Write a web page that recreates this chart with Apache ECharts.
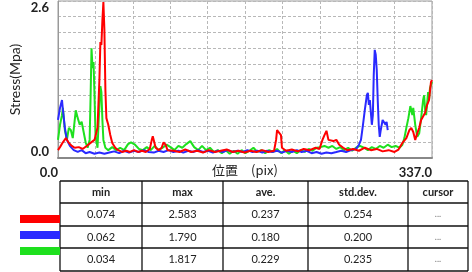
<!DOCTYPE html>
<html>
<head>
<meta charset="utf-8">
<script src="https://cdn.jsdelivr.net/npm/echarts@6/dist/echarts.min.js"></script>
<style>html,body{margin:0;padding:0;background:#fff;}#c{width:472px;height:272px;}</style>
</head>
<body>
<div id="c"></div>
<script>
// ---- data ----
const xMax = 337.0;
const yMax = 2.6;
const seriesNames = ['red', 'blue', 'green'];
const seriesColors = ['#ff0000', '#2a2aff', '#1ee01e'];

const redData = [
  [0,0.13],[1.8,0.18],[4.4,0.26],[7.1,0.33],[9.8,0.25],[12.4,0.2],[15.1,0.17],[18.7,0.18],[22.2,0.15],
  [25.8,0.2],[29.3,0.25],[32.9,0.3],[35.6,0.5],[37.3,1.29],[38.2,1.92],[39.1,1.87],[40,2.28],[40.9,2.583],
  [41.8,2.12],[42.7,1.13],[43.6,0.66],[45.3,0.55],[47.1,0.38],[48.9,0.25],[51.6,0.17],[54.2,0.13],[57.8,0.1],
  [61.4,0.12],[64.9,0.1],[68.5,0.13],[72,0.1],[75.6,0.12],[79.1,0.1],[82.7,0.15],[84.5,0.3],[85.4,0.36],
  [87.1,0.35],[88,0.17],[90.7,0.13],[93.4,0.17],[95.1,0.26],[96.9,0.22],[98.7,0.13],[104,0.12],[109.4,0.1],
  [114.7,0.14],[120,0.1],[125.4,0.12],[130.7,0.09],[136,0.13],[141.4,0.1],[146.7,0.12],[152,0.14],[157.4,0.1],
  [162.7,0.12],[168,0.09],[173.4,0.12],[178.7,0.1],[184,0.13],[189.4,0.1],[194.7,0.12],[196.5,0.3],[197.4,0.46],
  [199.2,0.48],[200.9,0.38],[201.8,0.17],[205.4,0.12],[210.7,0.14],[216.1,0.11],[221.4,0.15],[226.7,0.13],
  [232.1,0.17],[235.6,0.15],[238.3,0.3],[240.1,0.38],[241.9,0.45],[243.7,0.3],[245.5,0.33],[248.1,0.28],
  [250.8,0.3],[253.4,0.22],[257,0.17],[260.6,0.13],[265.9,0.15],[271.2,0.12],[276.5,0.17],[281.9,0.13],
  [287.2,0.15],[292.5,0.11],[297.9,0.13],[303.2,0.1],[306.8,0.14],[310.3,0.25],[313.9,0.33],[316.6,0.46],
  [318.3,0.5],[320.1,0.43],[321.9,0.3],[323.7,0.41],[325.5,0.5],[327.2,0.63],[329,0.66],[330.8,0.75],
  [332.6,0.88],[334.3,0.96],[336.1,1.26],[337,1.29]
];

const blueData = [
  [0,0.63],[1.8,0.83],[3.6,0.96],[4.4,0.8],[6.2,0.5],[8,0.3],[10.7,0.2],[14.2,0.13],[17.8,0.1],[21.3,0.13],
  [24.9,0.08],[28.5,0.1],[32.9,0.07],[37.3,0.09],[41.8,0.07],[46.2,0.09],[50.7,0.11],[55.1,0.08],[59.6,0.12],
  [64,0.09],[68.5,0.12],[72.9,0.1],[77.4,0.13],[81.8,0.1],[86.3,0.09],[90.7,0.12],[95.1,0.1],[99.6,0.13],
  [104,0.1],[108.5,0.12],[112.9,0.09],[117.4,0.12],[121.8,0.1],[126.3,0.13],[130.7,0.1],[135.2,0.12],
  [139.6,0.09],[144,0.12],[148.5,0.1],[152.9,0.13],[157.4,0.1],[161.8,0.12],[166.3,0.1],[170.7,0.13],
  [175.2,0.1],[179.6,0.12],[184.1,0.09],[188.5,0.12],[193,0.1],[197.4,0.12],[201.8,0.09],[206.3,0.12],
  [210.7,0.1],[215.2,0.13],[219.6,0.1],[224.1,0.12],[228.5,0.08],[233,0.1],[237.4,0.07],[241.9,0.09],
  [246.3,0.08],[250.8,0.1],[255.2,0.12],[259.6,0.1],[264.1,0.13],[268.5,0.15],[271.2,0.22],[273,0.3],
  [274.8,0.55],[276.5,0.8],[278.3,1.04],[279.2,1.08],[280.1,0.88],[281,0.96],[282.8,0.55],[283.7,0.71],
  [284.5,1.37],[285.4,1.79],[286.3,1.71],[287.2,1.46],[288.1,0.96],[289,0.55],[289.9,0.35],[290.8,0.46],
  [292.5,0.63],[294.3,0.66],[295.2,0.55],[296.1,0.6],[297.1,0.46]
];

const greenData = [
  [0,0.3],[1.8,0.55],[3.6,0.71],[4.4,0.83],[6.2,0.46],[8,0.3],[9.8,0.5],[11.6,0.46],[13.3,0.33],[15.1,0.63],
  [16,0.79],[17.8,0.66],[19.6,0.55],[21.3,0.6],[23.1,0.43],[24.9,0.26],[26.7,0.17],[28.5,0.3],[29.3,0.96],
  [30.2,1.817],[31.1,1.49],[32,1.59],[32.9,1.04],[33.8,0.38],[35.6,0.17],[36.5,0.55],[38.2,1.19],[39.1,1.09],
  [40,0.63],[40.9,0.3],[42.7,0.17],[45.3,0.13],[48.9,0.18],[52.5,0.13],[56,0.17],[59.6,0.13],[63.1,0.23],
  [65.8,0.26],[69.4,0.22],[72.9,0.15],[76.5,0.13],[80,0.18],[83.6,0.13],[87.1,0.2],[90.7,0.13],[94.3,0.17],
  [97.8,0.22],[101.4,0.18],[104.9,0.13],[108.5,0.2],[112,0.17],[115.6,0.23],[119.2,0.28],[122.7,0.18],
  [126.3,0.13],[129.8,0.2],[133.4,0.13],[136.9,0.17],[140.5,0.1],[144,0.13],[147.6,0.08],[151.2,0.13],
  [154.7,0.07],[158.3,0.12],[161.8,0.07],[165.4,0.13],[168.9,0.08],[172.5,0.12],[176.1,0.17],[179.6,0.1],
  [183.2,0.13],[186.7,0.08],[190.3,0.13],[193.8,0.1],[197.4,0.15],[201,0.08],[204.5,0.13],[208.1,0.07],
  [211.6,0.12],[215.2,0.08],[218.7,0.13],[222.3,0.1],[225.9,0.15],[229.4,0.12],[233,0.17],[236.5,0.18],
  [240.1,0.2],[243.7,0.17],[247.2,0.2],[250.8,0.15],[254.3,0.18],[257.9,0.13],[261.4,0.17],[265,0.12],
  [268.5,0.17],[272.1,0.2],[275.6,0.17],[279.2,0.13],[282.8,0.18],[286.3,0.15],[289.9,0.2],[293.4,0.17],
  [297.1,0.22],[300.6,0.18],[304.2,0.2],[307.7,0.17],[310.3,0.22],[312.1,0.33],[313.9,0.5],[315.7,0.66],
  [317.5,0.86],[319.3,0.71],[320.1,0.83],[321.9,0.55],[323.7,0.35],[325.5,0.41],[327.2,0.66],[329,0.96],
  [329.9,1.04],[330.8,0.8],[331.7,0.71],[333.5,1.09],[334.3,0.96],[335.2,1.16],[337,1.26]
];

const tableHeaders = ['min', 'max', 'ave.', 'std.dev.', 'cursor'];
const rowMin = ['0.074', '0.062', '0.034'];
const rowMax = ['2.583', '1.790', '1.817'];
const rowAve = ['0.237', '0.180', '0.229'];
const rowStd = ['0.254', '0.200', '0.235'];
const rowCursor = ['...', '...', '...'];

const yAxisName = 'Stress(Mpa)';
const xAxisName = '位置\u3000(pix)';

// ---- layout (styling only) ----
const FONT = 'Lato, "Noto Sans", sans-serif';
const colX = [60, 142, 223, 308, 408, 468];
const rowY = [181, 203, 226, 248, 271];
const legendY = [215, 231, 247];

const graphics = [];
colX.forEach(x => graphics.push({type:'line', shape:{x1:x, y1:rowY[0], x2:x, y2:rowY[rowY.length-1]}, style:{stroke:'#111', lineWidth:1.3}}));
rowY.forEach(y => graphics.push({type:'line', shape:{x1:colX[0], y1:y, x2:colX[colX.length-1], y2:y}, style:{stroke:'#111', lineWidth:1.3}}));
tableHeaders.forEach((h, i) => graphics.push({
  type:'text', x:(colX[i]+colX[i+1])/2, y:(rowY[0]+rowY[1])/2,
  style:{text:h, fontSize:11, fontWeight:'bold', fontFamily:FONT, fill:'#222', align:'center', verticalAlign:'middle'}
}));
const cols = [rowMin, rowMax, rowAve, rowStd, rowCursor];
for (let r = 0; r < 3; r++) {
  cols.forEach((col, i) => graphics.push({
    type:'text', x:(colX[i]+colX[i+1])/2, y:(rowY[r+1]+rowY[r+2])/2,
    style:{text:col[r], fontSize: i === 4 ? 9 : 11, fontFamily:FONT, fill: i === 4 ? '#777' : '#222', align:'center', verticalAlign:'middle'}
  }));
  graphics.push({type:'rect', shape:{x:20, y:legendY[r], width:40, height:8}, style:{fill:seriesColors[r]}});
}

const chart = echarts.init(document.getElementById('c'), null, {renderer:'canvas'});
const mk = (name, data, color, z) => ({
  name, type:'line', data, showSymbol:false, z,
  lineStyle:{color, width:2}, itemStyle:{color}, animation:false
});

chart.setOption({
  animation:false,
  grid:{left:53, right:40, top:1, bottom:114, show:true, borderColor:'#9a9a9a', borderWidth:1},
  xAxis:{
    type:'value', min:0, max:xMax, interval:33.7,
    name:xAxisName, nameLocation:'middle', nameGap:6, nameMoveOverlap:false,
    nameTextStyle:{fontFamily:'"Noto Sans CJK JP", sans-serif', fontSize:13, color:'#222'},
    axisLine:{show:true, lineStyle:{color:'#888', width:2}},
    axisTick:{show:false},
    splitLine:{show:true, lineStyle:{color:'#b8b8b8', type:[3,2], width:1}},
    axisLabel:{
      margin:8, fontFamily:FONT, fontSize:13, fontWeight:'bold', color:'#222', align:'right',
      formatter: v => (Math.abs(v) < 1e-9 || Math.abs(v - xMax) < 1e-6) ? v.toFixed(1) : ''
    }
  },
  yAxis:{
    type:'value', min:0, max:yMax, interval:0.26,
    name:yAxisName, nameLocation:'middle', nameGap:36, nameRotate:90, nameMoveOverlap:false,
    nameTextStyle:{fontFamily:FONT, fontSize:14, color:'#222'},
    axisLine:{show:true, lineStyle:{color:'#999', width:1}},
    axisTick:{show:false},
    splitLine:{show:true, lineStyle:{color:'#b8b8b8', type:[3,2], width:1}},
    axisLabel:{
      margin:9, fontFamily:FONT, fontSize:13, fontWeight:'bold', color:'#222',
      verticalAlignMinLabel:'bottom', verticalAlignMaxLabel:'top',
      formatter: v => (Math.abs(v) < 1e-9 || Math.abs(v - yMax) < 1e-6) ? v.toFixed(1) : ''
    }
  },
  series:[
    mk(seriesNames[2], greenData, seriesColors[2], 2),
    mk(seriesNames[1], blueData, seriesColors[1], 3),
    mk(seriesNames[0], redData, seriesColors[0], 4)
  ],
  graphic:graphics
});
</script>
</body>
</html>
